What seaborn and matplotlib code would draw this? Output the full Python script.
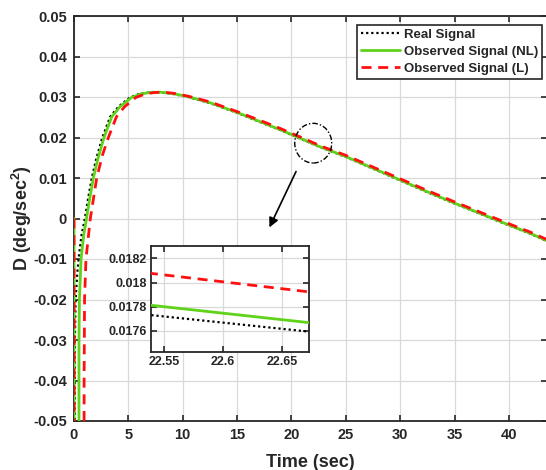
import numpy as np
import pandas as pd
import matplotlib
matplotlib.use("Agg")
import matplotlib.pyplot as plt
from matplotlib.patches import Ellipse
import seaborn as sns

# ---------------- data ----------------
t_real = [0.0, 0.02, 0.08, 0.15, 0.3, 0.46, 0.7, 1.0, 1.25, 1.63, 2.05, 2.61, 3.32, 4.08,
          5.15, 6.05, 6.85, 7.75, 9.0, 10.5, 12.5, 15.0, 17.5, 19.0, 21.0, 22.5, 22.7,
          25.0, 27.5, 30.0, 32.5, 35.0, 37.5, 40.0, 42.0, 43.5]
v_real = [-0.2, -0.2, -0.03, -0.02, -0.0135, -0.009, -0.004, 0.0, 0.0042, 0.01, 0.0148, 0.02,
          0.0251, 0.0276, 0.0299, 0.0308, 0.0311, 0.0312, 0.0308, 0.0300, 0.0285, 0.0261,
          0.0234, 0.0218, 0.0195, 0.017771, 0.017567, 0.0152, 0.0123, 0.0094, 0.0065,
          0.0037, 0.0010, -0.0017, -0.0038, -0.0056]

t_nl = [0.0, 0.02, 0.44, 0.46, 0.5, 0.65, 0.9, 1.15, 1.4, 1.78, 2.2, 2.76, 3.47, 4.23,
        5.3, 6.2, 7.0, 7.9, 9.0, 10.5, 12.5, 15.0, 17.5, 19.0, 21.0, 22.5, 22.7,
        25.0, 27.5, 30.0, 32.5, 35.0, 37.5, 40.0, 42.0, 43.5]
v_nl = [0.0, -0.2, -0.2, -0.03, -0.02, -0.01, -0.004, 0.0, 0.0042, 0.01, 0.0148, 0.02,
        0.0251, 0.0276, 0.0299, 0.0308, 0.0311, 0.0312, 0.0309, 0.0301, 0.0286, 0.0262,
        0.0235, 0.0219, 0.0196, 0.017854, 0.017640, 0.0153, 0.0124, 0.0095, 0.0066,
        0.0038, 0.0011, -0.0016, -0.0037, -0.0055]

t_l = [0.0, 0.02, 0.9, 0.93, 0.97, 1.1, 1.5, 2.09, 2.6, 3.16, 3.9, 4.65, 5.7, 6.6, 7.4,
       8.2, 9.2, 10.5, 12.5, 15.0, 17.5, 19.0, 21.0, 22.5, 22.7, 25.0, 27.5, 30.0,
       32.5, 35.0, 37.5, 40.0, 42.0, 43.5]
v_l = [0.0, -0.2, -0.2, -0.04, -0.02, -0.01, 0.0, 0.01, 0.0155, 0.02, 0.0251, 0.0276,
       0.0299, 0.0308, 0.0311, 0.0312, 0.0309, 0.0302, 0.0288, 0.0264, 0.0238, 0.0222,
       0.0199, 0.018120, 0.017892, 0.0156, 0.0127, 0.0098, 0.0069, 0.0041, 0.0014,
       -0.0013, -0.0034, -0.0052]

labels = ["Real Signal", "Observed Signal (NL)", "Observed Signal (L)"]
x_ticks = [0, 5, 10, 15, 20, 25, 30, 35, 40]
y_ticks = [-0.05, -0.04, -0.03, -0.02, -0.01, 0, 0.01, 0.02, 0.03, 0.04, 0.05]
y_ticklabels = ["-0.05", "-0.04", "-0.03", "-0.02", "-0.01", "0", "0.01", "0.02", "0.03", "0.04", "0.05"]
inset_xticks = [22.55, 22.6, 22.65]
inset_xticklabels = ["22.55", "22.6", "22.65"]
inset_yticks = [0.0176, 0.0178, 0.018, 0.0182]
inset_yticklabels = ["0.0176", "0.0178", "0.018", "0.0182"]

# ---------------- style ----------------
sns.set_theme(style="whitegrid")
plt.rcParams["font.family"] = ["Liberation Sans", "DejaVu Sans"]
plt.rcParams["font.weight"] = "bold"
plt.rcParams["mathtext.fontset"] = "custom"
plt.rcParams["mathtext.rm"] = "Liberation Sans:bold"
plt.rcParams["mathtext.bf"] = "Liberation Sans:bold"
plt.rcParams["mathtext.default"] = "rm"

GRID = "#d9d9d9"
SPINE = "#262626"

fig = plt.figure(figsize=(5.46, 4.70), dpi=100)
ax = fig.add_axes([74 / 546, 49 / 470, 473 / 546, 405 / 470])


def draw(a, with_labels):
    sns.lineplot(x=t_real, y=v_real, ax=a, color="black", lw=1.6,
                 linestyle=(0, (1, 1.3)), label=labels[0] if with_labels else None,
                 sort=False, estimator=None, zorder=3)
    sns.lineplot(x=t_nl, y=v_nl, ax=a, color="#5fd21a", lw=2.0,
                 linestyle="-", label=labels[1] if with_labels else None,
                 sort=False, estimator=None, zorder=3)
    sns.lineplot(x=t_l, y=v_l, ax=a, color="#ff1010", lw=2.0,
                 linestyle=(0, (3.6, 2.4)), label=labels[2] if with_labels else None,
                 sort=False, estimator=None, zorder=3)


def style_axes(a, fs, pad):
    a.set_facecolor("white")
    a.grid(True, color=GRID, lw=0.9)
    for s in a.spines.values():
        s.set_color(SPINE)
        s.set_linewidth(1.3)
        s.set_visible(True)
    a.tick_params(direction="in", length=4, width=1.2, color=SPINE,
                  top=True, right=True, bottom=True, left=True,
                  labelsize=fs, labelcolor="#262626", pad=pad)
    for lab in a.get_xticklabels() + a.get_yticklabels():
        lab.set_fontweight("bold")


draw(ax, True)
ax.set_xlim(0, 43.5)
ax.set_ylim(-0.05, 0.05)
ax.set_xticks(x_ticks)
ax.set_yticks(y_ticks)
ax.set_yticklabels(y_ticklabels)
style_axes(ax, 10.5, 5)
ax.set_xlabel("Time (sec)", fontsize=13, fontweight="bold", color="#262626", labelpad=9)
ax.set_ylabel(r"D (deg/sec$^2$)", fontsize=13, fontweight="bold", color="#262626", labelpad=-0.5)

leg = ax.legend(loc="upper right", bbox_to_anchor=(0.989, 0.978), borderaxespad=0,
                frameon=True, fancybox=False, framealpha=1, edgecolor="#262626",
                prop={"weight": "bold", "size": 9.5}, handlelength=2.9,
                handletextpad=0.3, borderpad=0.3, labelspacing=0.35)
leg.get_frame().set_linewidth(1.2)

# zoom circle and arrow (decorations)
circ = Ellipse((22.0, 0.0186), width=3.4, height=0.0098, transform=ax.transData,
               fill=False, edgecolor="black", lw=1.0, linestyle=(0, (4, 1.5, 1, 1.5)), zorder=5)
ax.add_patch(circ)
ax.annotate("", xy=(17.97, -0.0022), xytext=(20.42, 0.0116),
            arrowprops=dict(arrowstyle="-|>", color="black", lw=1.2,
                            mutation_scale=14, shrinkA=0, shrinkB=0), zorder=5)

# inset
axi = fig.add_axes([151 / 546, (470 - 351.7) / 470, 158 / 546, 106 / 470])
draw(axi, False)
axi.set_xlim(22.539, 22.673)
axi.set_ylim(0.017429, 0.018304)
axi.set_xticks(inset_xticks)
axi.set_xticklabels(inset_xticklabels)
axi.set_yticks(inset_yticks)
axi.set_yticklabels(inset_yticklabels)
style_axes(axi, 9, 3)
axi.set_xlabel("")
axi.set_ylabel("")
if axi.get_legend() is not None:
    axi.get_legend().remove()

fig.savefig("out.png", dpi=100)
